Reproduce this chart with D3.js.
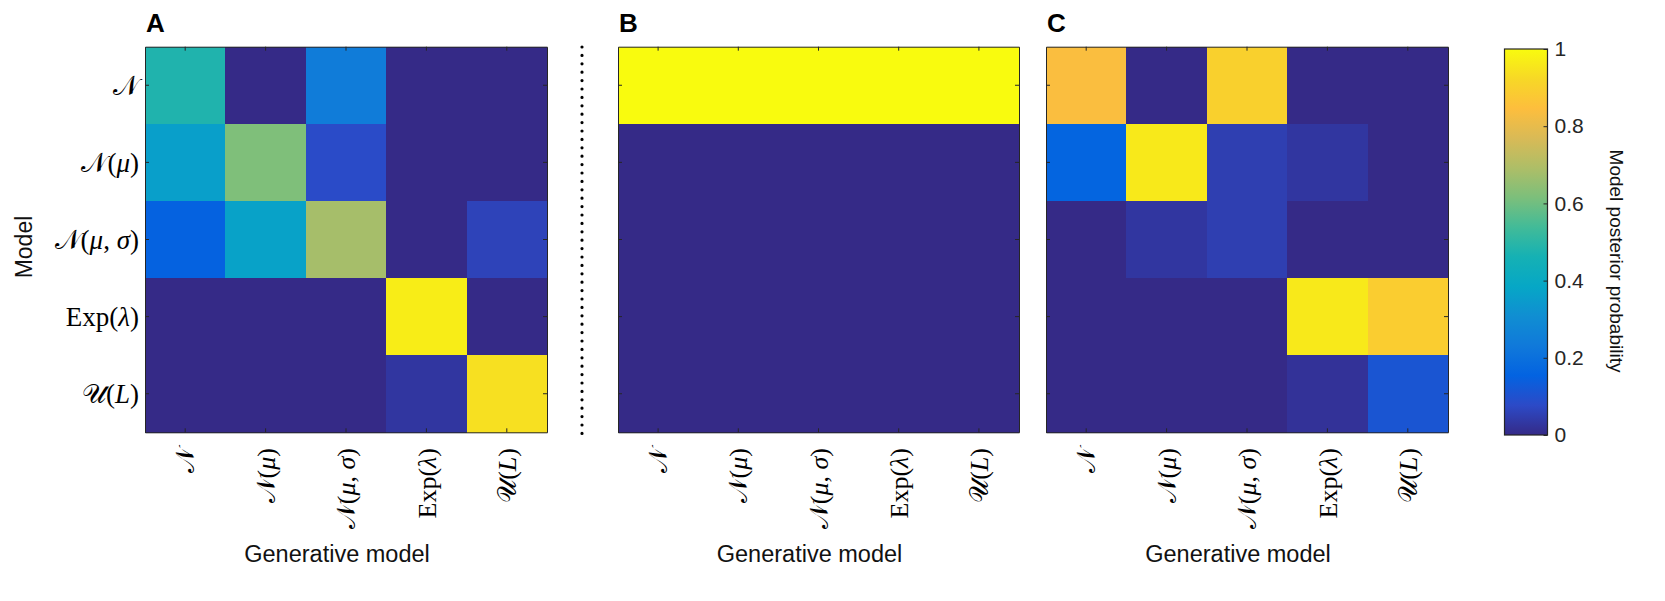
<!DOCTYPE html>
<html>
<head>
<meta charset="utf-8">
<script src="https://cdn.jsdelivr.net/npm/d3@7"></script>
<style>
  body { margin: 0; background: #fff; }
  svg { display: block; }
</style>
</head>
<body>
<div id="chart"></div>
<script>
// Models: rows are the fitted model, columns the generative model (same labels)
const models = ["𝒩", "𝒩(μ)", "𝒩(μ, σ)", "Exp(λ)", "𝒰(L)"];

// Model posterior probability (row = model, column = generative model)
const panelA = [
  [0.48, 0.00, 0.24, 0.00, 0.00],
  [0.36, 0.62, 0.08, 0.00, 0.00],
  [0.15, 0.37, 0.68, 0.00, 0.06],
  [0.00, 0.00, 0.00, 0.97, 0.00],
  [0.00, 0.00, 0.00, 0.03, 0.94]
];
const panelB = [
  [1, 1, 1, 1, 1],
  [0, 0, 0, 0, 0],
  [0, 0, 0, 0, 0],
  [0, 0, 0, 0, 0],
  [0, 0, 0, 0, 0]
];
const panelC = [
  [0.84, 0.00, 0.90, 0.00, 0.00],
  [0.16, 0.96, 0.05, 0.03, 0.00],
  [0.00, 0.03, 0.05, 0.00, 0.00],
  [0.00, 0.00, 0.00, 0.96, 0.89],
  [0.00, 0.00, 0.00, 0.02, 0.11]
];
const panelNames = ["A", "B", "C"];
const colorTicks = [0, 0.2, 0.4, 0.6, 0.8, 1];

/* MATLAB parula colormap, sampled every ~5 of its 64 entries */
const parula = [
  [0.2081, 0.1663, 0.5292], [0.1707, 0.2919, 0.7792], [0.0117, 0.3875, 0.8820],
  [0.0629, 0.4737, 0.8554], [0.0641, 0.5570, 0.8240], [0.0228, 0.6535, 0.7768],
  [0.0843, 0.6928, 0.7062], [0.2586, 0.7317, 0.5954], [0.4871, 0.7491, 0.4840],
  [0.6834, 0.7435, 0.4044], [0.8507, 0.7299, 0.3360], [0.9938, 0.7455, 0.2403],
  [0.9697, 0.8481, 0.1475], [0.9763, 0.9831, 0.0538]
];
const parulaColors = parula.map(c => d3.rgb(c[0] * 255, c[1] * 255, c[2] * 255).formatHex());
const parulaStops = parula.map((c, i) => i / (parula.length - 1));

const color = d3.scaleLinear()
  .domain(parulaStops)
  .range(parulaColors)
  .interpolate(d3.interpolateRgb)
  .clamp(true);

/* Figure layout */
const width = 1665, height = 601;
const plotTop = 46.7, plotH = 385.6;
const axisColor = "#262626";
const sans = "'Liberation Sans', Arial, Helvetica, sans-serif";
const serif = "'Liberation Serif', 'DejaVu Serif', serif";

const panels = [
  {x: 145, w: 402, data: panelA, yLabels: true},
  {x: 618, w: 401, data: panelB, yLabels: false},
  {x: 1046, w: 402, data: panelC, yLabels: false}
];

const svg = d3.select("#chart")
  .append("svg")
  .attr("width", width)
  .attr("height", height)
  .attr("viewBox", [0, 0, width, height]);

// Write a model label with Greek letters and L in italic
const mathLabel = (sel, s) => {
  Array.from(s).forEach(ch => {
    sel.append("tspan")
      .style("font-style", /[μσλL]/.test(ch) ? "italic" : "normal")
      .text(ch);
  });
};

panels.forEach((p, k) => {
  const g = svg.append("g");

  const xScale = d3.scaleBand()
    .domain(models)
    .range([p.x, p.x + p.w]);
  const yScale = d3.scaleBand()
    .domain(models)
    .range([plotTop, plotTop + plotH]);

  const cells = [];
  p.data.forEach((row, i) => row.forEach((v, j) => {
    cells.push({row: models[i], col: models[j], value: v});
  }));

  g.append("g")
    .selectAll("rect")
    .data(cells)
    .join("rect")
      .attr("x", d => xScale(d.col))
      .attr("y", d => yScale(d.row))
      .attr("width", xScale.bandwidth() + 0.4)
      .attr("height", yScale.bandwidth() + 0.4)
      .attr("fill", d => color(d.value))
      .attr("shape-rendering", "crispEdges")
    .append("title")
      .text(d => `${d.row} | ${d.col}: ${d.value}`);

  /* Box with inward ticks on all four sides, MATLAB style */
  const styleAxis = sel => {
    sel.selectAll("path, line").attr("stroke", axisColor).attr("stroke-width", 1);
    sel.selectAll("text").remove();
  };
  g.append("g")
    .attr("transform", `translate(0, ${plotTop + plotH})`)
    .call(d3.axisBottom(xScale).tickSizeInner(-4).tickSizeOuter(0))
    .call(styleAxis);
  g.append("g")
    .attr("transform", `translate(0, ${plotTop})`)
    .call(d3.axisTop(xScale).tickSizeInner(-4).tickSizeOuter(0))
    .call(styleAxis);
  g.append("g")
    .attr("transform", `translate(${p.x}, 0)`)
    .call(d3.axisLeft(yScale).tickSizeInner(-4).tickSizeOuter(0))
    .call(styleAxis);
  g.append("g")
    .attr("transform", `translate(${p.x + p.w}, 0)`)
    .call(d3.axisRight(yScale).tickSizeInner(-4).tickSizeOuter(0))
    .call(styleAxis);

  /* Rotated x tick labels */
  g.append("g")
    .selectAll("text")
    .data(models)
    .join("text")
      .attr("transform", d => `translate(${xScale(d) + xScale.bandwidth() / 2}, 448) rotate(-90)`)
      .attr("dy", "0.35em")
      .attr("text-anchor", "end")
      .style("font-family", serif)
      .style("font-size", "26px")
      .style("fill", "#000")
      .each(function(d) { mathLabel(d3.select(this), d); });

  /* y tick labels only on the first panel */
  if (p.yLabels) {
    g.append("g")
      .selectAll("text")
      .data(models)
      .join("text")
        .attr("x", p.x - 6)
        .attr("y", d => yScale(d) + yScale.bandwidth() / 2)
        .attr("dy", "0.35em")
        .attr("text-anchor", "end")
        .style("font-family", serif)
        .style("font-size", "27px")
        .style("fill", "#000")
        .each(function(d) { mathLabel(d3.select(this), d); });
  }

  /* Panel letter */
  g.append("text")
    .attr("x", p.x + 1)
    .attr("y", 32)
    .style("font-family", sans)
    .style("font-weight", "bold")
    .style("font-size", "26px")
    .style("fill", "#000")
    .text(panelNames[k]);

  /* x axis title */
  g.append("text")
    .attr("x", p.x + p.w / 2 - 9)
    .attr("y", 554)
    .attr("dy", "0.35em")
    .attr("text-anchor", "middle")
    .style("font-family", sans)
    .style("font-size", "23.5px")
    .style("fill", "#111")
    .text("Generative model");
});

/* y axis title */
svg.append("text")
  .attr("transform", "translate(24, 247) rotate(-90)")
  .attr("dy", "0.35em")
  .attr("text-anchor", "middle")
  .style("font-family", sans)
  .style("font-size", "23px")
  .style("fill", "#111")
  .text("Model");

/* Dotted separator between A and B */
svg.append("line")
  .attr("x1", 582).attr("x2", 582)
  .attr("y1", 47).attr("y2", 434)
  .attr("stroke", "#000")
  .attr("stroke-width", 3.2)
  .attr("stroke-linecap", "round")
  .attr("stroke-dasharray", "0 8.4");

/* Colorbar */
const cb = {x: 1504.5, y: 49, w: 43, h: 386};
const grad = svg.append("defs")
  .append("linearGradient")
  .attr("id", "parula")
  .attr("x1", 0).attr("y1", 1)
  .attr("x2", 0).attr("y2", 0);
grad.selectAll("stop")
  .data(parulaStops)
  .join("stop")
    .attr("offset", d => d)
    .attr("stop-color", d => color(d));

svg.append("rect")
  .attr("x", cb.x)
  .attr("y", cb.y)
  .attr("width", cb.w)
  .attr("height", cb.h)
  .attr("fill", "url(#parula)")
  .attr("stroke", axisColor)
  .attr("stroke-width", 1.2);

const cScale = d3.scaleLinear()
  .domain([0, 1])
  .range([cb.y + cb.h, cb.y]);

svg.append("g")
  .attr("transform", `translate(${cb.x + cb.w}, 0)`)
  .call(d3.axisRight(cScale)
    .tickValues(colorTicks)
    .tickFormat(d3.format("~g"))
    .tickSizeInner(-4)
    .tickSizeOuter(0)
    .tickPadding(7))
  .call(g => g.select(".domain").remove())
  .call(g => g.selectAll("line").attr("stroke", axisColor))
  .call(g => g.selectAll("text")
    .style("font-family", sans)
    .style("font-size", "21px")
    .style("fill", axisColor));

svg.append("text")
  .attr("transform", "translate(1617, 261) rotate(90)")
  .attr("dy", "0.35em")
  .attr("text-anchor", "middle")
  .style("font-family", sans)
  .style("font-size", "19px")
  .style("fill", "#111")
  .text("Model posterior probability");
</script>
</body>
</html>
